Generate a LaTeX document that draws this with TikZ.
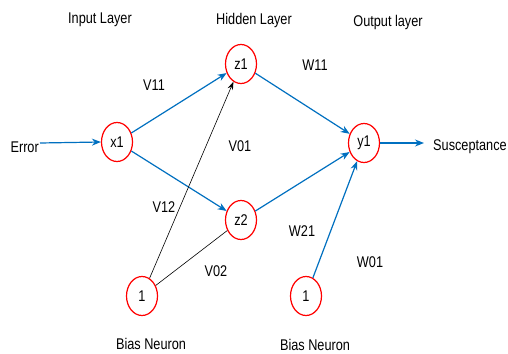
\documentclass[tikz,border=0pt]{standalone}
\usepackage{fontspec}
\setmainfont{Liberation Sans}[FakeStretch=0.82]
\usetikzlibrary{shapes.geometric,arrows.meta}
\definecolor{lineblue}{RGB}{0,112,192}
\begin{document}
\begin{tikzpicture}[x=1pt,y=-1pt,
  neuron/.style={ellipse,draw=red,line width=1.2pt,minimum width=31pt,minimum height=39pt,inner sep=0pt,font=\fontsize{15.5}{17}\selectfont},
  lbl/.style={font=\fontsize{15.5}{17}\selectfont,inner sep=0pt},
  blueedge/.style={draw=lineblue,line width=1.2pt,-{Stealth[length=9pt,width=7pt]}},
  blackedge/.style={draw=black,line width=0.6pt},
]
\useasboundingbox (0,0) rectangle (508,353);
\fill[white] (0,0) rectangle (508,353);

\node[lbl] (tin) at (100,20) {Input Layer};
\node[lbl] (thid) at (254,20) {Hidden Layer};
\node[lbl] (tout) at (388,22) {Output layer};

\node[neuron] (x1) at (117,142) {x1};
\node[neuron] (z1) at (241,64) {z1};
\node[neuron] (z2) at (241,220) {z2};
\node[neuron] (y1) at (364,143) {y1};
\node[neuron] (b1) at (142,296) {1};
\node[neuron] (b2) at (306,296) {1};

\node[lbl,anchor=east] (err) at (39,147) {Error};
\node[lbl,anchor=west] (sus) at (433,147) {Susceptance};

\node[lbl] (v11) at (154,85) {V11};
\node[lbl] (v01) at (240,146) {V01};
\node[lbl] (v12) at (164,207) {V12};
\node[lbl] (v02) at (216,271) {V02};
\node[lbl] (w11) at (315,65) {W11};
\node[lbl] (w21) at (302,231) {W21};
\node[lbl] (w01) at (370,262) {W01};
\node[lbl] (bn1) at (151,344) {Bias Neuron};
\node[lbl] (bn2) at (315,345) {Bias Neuron};

\coordinate (errend) at (40,143);
\coordinate (susend) at (424,143);

\draw[blueedge] (errend) -- (x1.west);
\draw[blueedge] (x1) -- (z1);
\draw[blueedge] (x1) -- (z2);
\draw[blueedge] (z1) -- (y1);
\draw[blueedge] (z2) -- (y1);
\draw[blueedge] (y1.east) -- (susend);
\draw[blueedge] (b2) -- (y1);
\draw[blackedge,-{Stealth[length=8pt,width=5.5pt]}] (b1) -- (z1);
\draw[blackedge] (b1) -- (z2);
\end{tikzpicture}
\end{document}
